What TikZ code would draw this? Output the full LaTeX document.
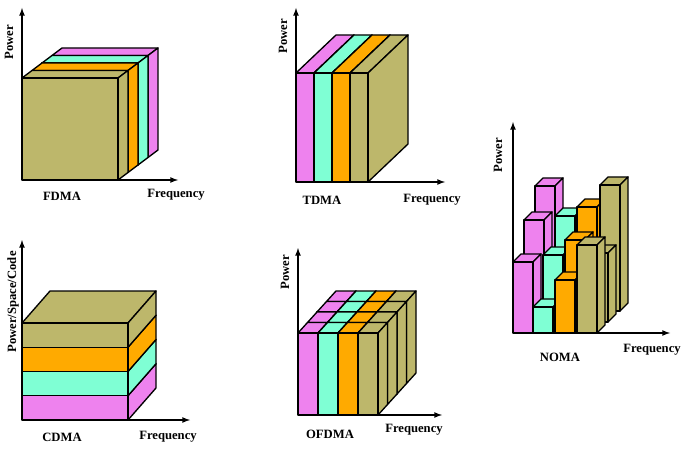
\documentclass[tikz,border=0pt]{standalone}
\usepackage{fontspec}
\setmainfont{Liberation Serif}
\definecolor{vio}{RGB}{238,130,238}
\definecolor{aqua}{RGB}{127,255,212}
\definecolor{orng}{RGB}{255,170,0}
\definecolor{khak}{RGB}{189,183,107}
% cuboid: x, y (bottom-left front), width, height, depth dx, depth dy, colour
\newcommand{\cuboid}[7]{%
  \draw[box,fill=#7] (#1,#2-#4) -- ++(#5,-#6) -- ++(#3,0) -- ++(-#5,#6) -- cycle;
  \draw[box,fill=#7] (#1+#3,#2) -- ++(#5,-#6) -- ++(0,-#4) -- ++(-#5,#6) -- cycle;
  \draw[box,fill=#7] (#1,#2) rectangle ++(#3,-#4);}
\begin{document}
\begin{tikzpicture}[x=0.75pt,y=-0.75pt,
    box/.style={line width=1pt,line join=round},
    axis/.style={line width=1pt,-latex},
    lbl/.style={font=\fontsize{9.5}{10}\selectfont\bfseries,inner sep=0pt}]
  \useasboundingbox (0,0) rectangle (685,449);
  % FDMA
  \coordinate (fo) at (22,180);
  \draw[axis] (fo) -- (22,8) coordinate (fp);
  \draw[axis] (fo) -- (178,180) coordinate (ff);
  \foreach \k/\c in {3/vio,2/aqua,1/orng,0/khak}
    \cuboid{22+10*\k}{180-7.5*\k}{96}{102}{10}{7.5}{\c};
  \node[lbl,rotate=90] (fpl) at (9,42) {Power};
  \node[lbl] (ffl) at (176,195) {Frequency};
  \node[lbl] (fn) at (62,196) {FDMA};
  % TDMA
  \coordinate (to) at (296,182);
  \draw[axis] (to) -- (296,8) coordinate (tp);
  \draw[axis] (to) -- (445,182) coordinate (tf);
  \foreach \k/\c in {0/vio,1/aqua,2/orng,3/khak}
    \cuboid{296+18*\k}{182}{18}{109}{40}{38}{\c};
  \node[lbl,rotate=90] (tpl) at (283,36) {Power};
  \node[lbl] (tfl) at (432,200) {Frequency};
  \node[lbl] (tn) at (322,200) {TDMA};
  % CDMA
  \coordinate (co) at (22,420);
  \draw[axis] (co) -- (22,240) coordinate (cp);
  \draw[axis] (co) -- (190,420) coordinate (cf);
  \foreach \k/\c in {0/vio,1/aqua,2/orng,3/khak}
    \cuboid{22}{420-24.25*\k}{106}{24.25}{28}{32}{\c};
  \node[lbl,rotate=90] (cpl) at (13,302) {Power/Space/Code};
  \node[lbl] (cfl) at (168,437) {Frequency};
  \node[lbl] (cn) at (62,437) {CDMA};
  % OFDMA
  \coordinate (oo) at (298,415);
  \draw[axis] (oo) -- (298,248) coordinate (op);
  \draw[axis] (oo) -- (442,415) coordinate (of);
  \foreach \r in {3,2,1,0}
    \foreach \k/\c in {0/vio,1/aqua,2/orng,3/khak}
      \cuboid{298+20*\k+9.5*\r}{415-10.5*\r}{20}{82}{9.5}{10.5}{\c};
  \node[lbl,rotate=90] (opl) at (285,272) {Power};
  \node[lbl] (ofl) at (414,430) {Frequency};
  \node[lbl] (on) at (330,434) {OFDMA};
  % NOMA
  \coordinate (no) at (513,333);
  \draw[axis] (no) -- (513,122) coordinate (np);
  \draw[axis] (no) -- (670,333) coordinate (nf);
  \foreach \r/\x/\h/\c in {
      2/535/125/vio, 2/555/95/aqua, 2/577/104/orng, 2/600/126/khak,
      1/524/102/vio, 1/543/67/aqua, 1/565/82/orng, 1/588/69/khak,
      0/513/71/vio, 0/533/26/aqua, 0/555/53/orng, 0/577/88/khak}
    \cuboid{\x}{333-11*\r}{20}{\h}{8}{8}{\c};
  \node[lbl,rotate=90] (npl) at (498,155) {Power};
  \node[lbl] (nfl) at (652,350) {Frequency};
  \node[lbl] (nn) at (560,357) {NOMA};
\end{tikzpicture}
\end{document}
